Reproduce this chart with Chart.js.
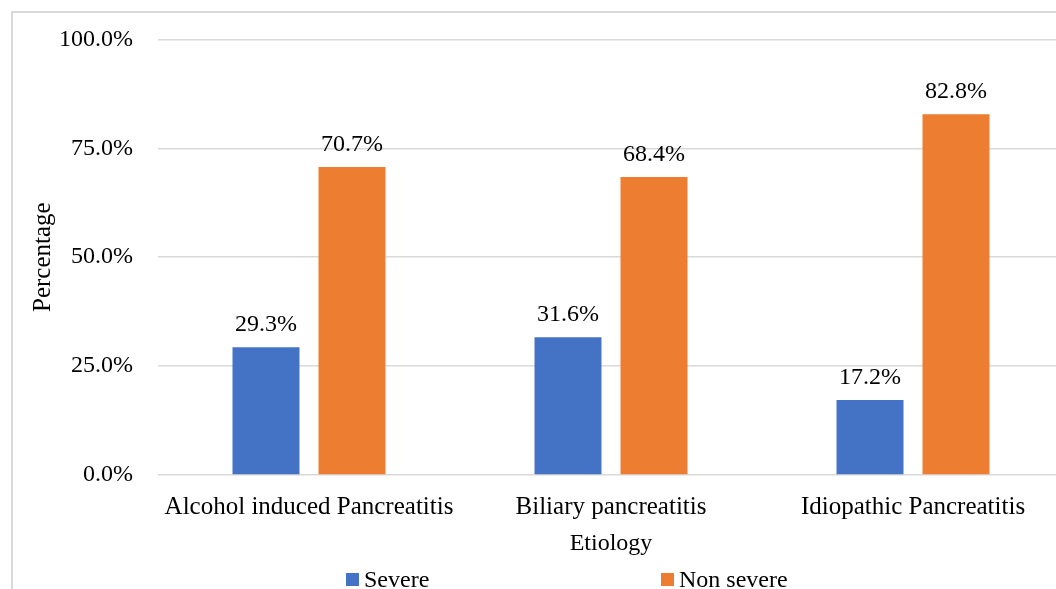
<!DOCTYPE html>
<html>
<head>
<meta charset="utf-8">
<script src="https://cdn.jsdelivr.net/npm/chart.js@4/dist/chart.umd.min.js"></script>
<style>
  html, body { margin: 0; padding: 0; background: #fff; overflow: hidden; }
  #frame { position: absolute; left: 11px; top: 11px; width: 1100px; height: 700px;
           border: 2px solid #d9d9d9; box-sizing: border-box; }
  #wrap { position: absolute; left: 0; top: 0; width: 1080px; height: 589px; }
</style>
</head>
<body>
<div id="frame"></div>
<div id="wrap"><canvas id="c" width="1080" height="589"></canvas></div>
<script>
// Etiology categories and share of cases by severity (%)
const categories = ['Alcohol induced Pancreatitis', 'Biliary pancreatitis', 'Idiopathic Pancreatitis'];
const severe = [29.3, 31.6, 17.2];
const nonSevere = [70.7, 68.4, 82.8];
const yTicks = [0, 25, 50, 75, 100];

const FONT = "'Liberation Serif', 'Times New Roman', serif";
const TEXT = '#000000';

// Value labels above each bar
const barLabels = {
  id: 'barLabels',
  afterDatasetsDraw(chart) {
    const ctx = chart.ctx;
    ctx.save();
    ctx.font = '24px ' + FONT;
    ctx.fillStyle = TEXT;
    ctx.textAlign = 'center';
    ctx.textBaseline = 'alphabetic';
    chart.data.datasets.forEach((ds, i) => {
      chart.getDatasetMeta(i).data.forEach((bar, j) => {
        ctx.fillText(ds.data[j].toFixed(1) + '%', bar.x, bar.y - 16);
      });
    });
    ctx.restore();
  }
};

// Legend row under the axis title
const legendRow = {
  id: 'legendRow',
  afterDraw(chart) {
    const ctx = chart.ctx;
    const starts = [346, 661];
    ctx.save();
    ctx.font = '24px ' + FONT;
    ctx.textBaseline = 'alphabetic';
    ctx.textAlign = 'left';
    chart.data.datasets.forEach((ds, i) => {
      const x = starts[i];
      ctx.fillStyle = ds.backgroundColor;
      ctx.fillRect(x, 573, 13, 13);
      ctx.fillStyle = TEXT;
      ctx.fillText(ds.label, x + 18, 587);
    });
    ctx.restore();
  }
};

new Chart(document.getElementById('c'), {
  type: 'bar',
  data: {
    labels: categories,
    datasets: [
      { label: 'Severe', data: severe, backgroundColor: '#4472C4',
        categoryPercentage: 0.5695, barPercentage: 0.779 },
      { label: 'Non severe', data: nonSevere, backgroundColor: '#ED7D31',
        categoryPercentage: 0.5695, barPercentage: 0.779 }
    ]
  },
  options: {
    responsive: false,
    devicePixelRatio: 1,
    animation: false,
    layout: { padding: { left: 14, right: 16, top: 38, bottom: 31 } },
    plugins: { legend: { display: false }, tooltip: { enabled: false } },
    scales: {
      x: {
        grid: { display: false },
        border: { display: false },
        ticks: { color: TEXT, font: { family: FONT, size: 25 }, padding: 9, maxRotation: 0 },
        title: { display: true, text: 'Etiology', color: TEXT,
                 font: { family: FONT, size: 24 }, padding: { top: 0, bottom: 0 } },
        afterFit(scale) { scale.height = 83; }
      },
      y: {
        min: 0, max: 100,
        afterBuildTicks(scale) { scale.ticks = yTicks.map(v => ({ value: v })); },
        grid: { color: '#d9d9d9', lineWidth: 1.5, drawTicks: false },
        border: { display: false },
        ticks: { color: TEXT, font: { family: FONT, size: 24 }, padding: 25,
                 callback: v => v.toFixed(1) + '%' },
        title: { display: true, text: 'Percentage', color: TEXT,
                 font: { family: FONT, size: 25 }, padding: { top: 14, bottom: 0 } },
        afterFit(scale) { scale.width = 144; }
      }
    }
  },
  plugins: [barLabels, legendRow]
});
</script>
</body>
</html>
